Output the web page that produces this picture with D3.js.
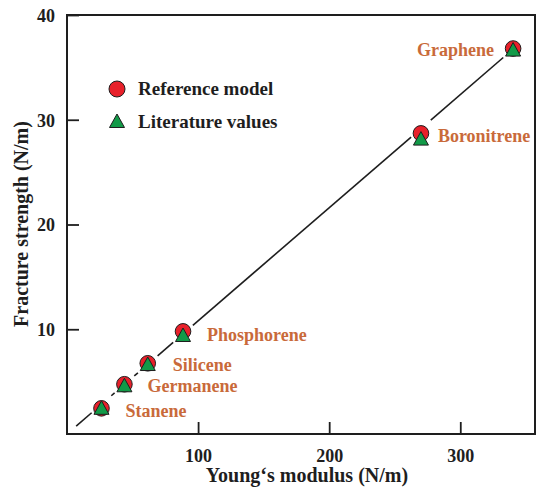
<!DOCTYPE html>
<html>
<head>
<meta charset="utf-8">
<script src="https://cdn.jsdelivr.net/npm/d3@7"></script>
<style>
  body { margin: 0; background: #fff; }
  svg text { font-family: "Liberation Serif", "Times New Roman", serif; font-weight: bold; }
</style>
</head>
<body>
<div id="vis"></div>
<script>
// data
var materials = ["Stanene", "Germanene", "Silicene", "Phosphorene", "Boronitrene", "Graphene"];
var youngs = [26.3, 43.8, 61.6, 88.5, 270, 340.3];
var refStrength = [2.45, 4.75, 6.75, 9.8, 28.7, 36.8];
var litStrength = [2.5, 4.65, 6.68, 9.45, 28.2, 36.7];
var xTicks = [100, 200, 300];
var yTicks = [10, 20, 30, 40];
var fitSlope = 0.108;
var fitStart = 7;
var legendItems = ["Reference model", "Literature values"];

// label placement (pixels relative to marker)
var labelPos = [
  {dx: 24, dy: 9, anchor: "start"},
  {dx: 23, dy: 8, anchor: "start"},
  {dx: 25, dy: 8, anchor: "start"},
  {dx: 24, dy: 10, anchor: "start"},
  {dx: 17, dy: 9, anchor: "start"},
  {dx: -19, dy: 7, anchor: "end"}
];

var W = 536, H = 488;
var mLeft = 67, mRight = 535, mTop = 15, mBottom = 434;

var svg = d3.select("#vis").append("svg")
  .attr("width", W)
  .attr("height", H);

var x = d3.scaleLinear().domain([0, 357]).range([mLeft, mRight]);
var y = d3.scaleLinear().domain([0, 40]).range([mBottom, mTop]);

var ink = "#1e1e1e";
var labelColor = "#c96a3a";
var red = "#e8202a";
var green = "#129a48";

// frame
svg.append("rect")
  .attr("x", mLeft).attr("y", mTop)
  .attr("width", mRight - mLeft).attr("height", mBottom - mTop)
  .attr("fill", "none").attr("stroke", ink).attr("stroke-width", 2);

// inward ticks
svg.append("g")
  .attr("transform", "translate(0," + mBottom + ")")
  .call(d3.axisBottom(x).tickValues(xTicks).tickSizeInner(-12).tickSizeOuter(0))
  .call(function(g) {
    g.select(".domain").remove();
    g.selectAll("line").attr("stroke", ink).attr("stroke-width", 1.8);
    g.selectAll("text").attr("font-size", 18).attr("fill", ink)
      .attr("font-family", "Liberation Serif").attr("dy", "0.71em").attr("y", 15);
  });

svg.append("g")
  .attr("transform", "translate(" + mLeft + ",0)")
  .call(d3.axisLeft(y).tickValues(yTicks).tickSizeInner(-12).tickSizeOuter(0))
  .call(function(g) {
    g.select(".domain").remove();
    g.selectAll("line").attr("stroke", ink).attr("stroke-width", 1.8);
    g.selectAll("text").attr("font-size", 18).attr("fill", ink)
      .attr("font-family", "Liberation Serif").attr("x", -12).attr("dy", "0.35em");
  });

// axis titles
svg.append("text")
  .attr("x", 307).attr("y", 482)
  .attr("text-anchor", "middle")
  .attr("font-size", 20)
  .attr("fill", ink)
  .text("Young\u2018s modulus (N/m)");

svg.append("text")
  .attr("transform", "translate(28,224) rotate(-90)")
  .attr("text-anchor", "middle")
  .attr("font-size", 20)
  .attr("fill", ink)
  .text("Fracture strength (N/m)");

// fit line, broken around markers
var gap = 13;
var breaks = [fitStart].concat(youngs);
var segs = [];
for (var i = 0; i < breaks.length - 1; i++) {
  var x0 = x(breaks[i]), y0 = y(breaks[i] * fitSlope);
  var x1 = x(breaks[i + 1]), y1 = y(breaks[i + 1] * fitSlope);
  var len = Math.sqrt((x1 - x0) * (x1 - x0) + (y1 - y0) * (y1 - y0));
  var ux = (x1 - x0) / len, uy = (y1 - y0) / len;
  var g0 = i === 0 ? 0 : gap;
  segs.push([x0 + ux * g0, y0 + uy * g0, x1 - ux * gap, y1 - uy * gap]);
}
svg.append("g").selectAll("line")
  .data(segs)
  .enter().append("line")
  .attr("x1", function(d) { return d[0]; })
  .attr("y1", function(d) { return d[1]; })
  .attr("x2", function(d) { return d[2]; })
  .attr("y2", function(d) { return d[3]; })
  .attr("stroke", ink)
  .attr("stroke-width", 1.6);

function triPath(cx, cy) {
  return "M" + cx + "," + (cy - 7) + "L" + (cx + 7.5) + "," + (cy + 6.5) + "L" + (cx - 7.5) + "," + (cy + 6.5) + "Z";
}

// markers
svg.append("g").selectAll("circle")
  .data(materials)
  .enter().append("circle")
  .attr("cx", function(d, i) { return x(youngs[i]); })
  .attr("cy", function(d, i) { return y(refStrength[i]); })
  .attr("r", 7.8)
  .attr("fill", red)
  .attr("stroke", ink)
  .attr("stroke-width", 1);

svg.append("g").selectAll("path")
  .data(materials)
  .enter().append("path")
  .attr("d", function(d, i) { return triPath(x(youngs[i]), y(litStrength[i])); })
  .attr("fill", green)
  .attr("stroke", ink)
  .attr("stroke-width", 1);

// material labels
svg.append("g").selectAll("text")
  .data(materials)
  .enter().append("text")
  .attr("x", function(d, i) { return x(youngs[i]) + labelPos[i].dx; })
  .attr("y", function(d, i) { return y(refStrength[i]) + labelPos[i].dy; })
  .attr("text-anchor", function(d, i) { return labelPos[i].anchor; })
  .attr("font-size", 18)
  .attr("fill", labelColor)
  .text(function(d) { return d; });

// legend
var legend = svg.append("g");
legend.append("circle")
  .attr("cx", 117).attr("cy", 89).attr("r", 8)
  .attr("fill", red).attr("stroke", ink).attr("stroke-width", 1);
legend.append("path")
  .attr("d", triPath(117, 121))
  .attr("fill", green).attr("stroke", ink).attr("stroke-width", 1);
legend.selectAll("text")
  .data(legendItems)
  .enter().append("text")
  .attr("x", 138)
  .attr("y", function(d, i) { return 95 + i * 33; })
  .attr("font-size", 19)
  .attr("fill", ink)
  .text(function(d) { return d; });
</script>
</body>
</html>
